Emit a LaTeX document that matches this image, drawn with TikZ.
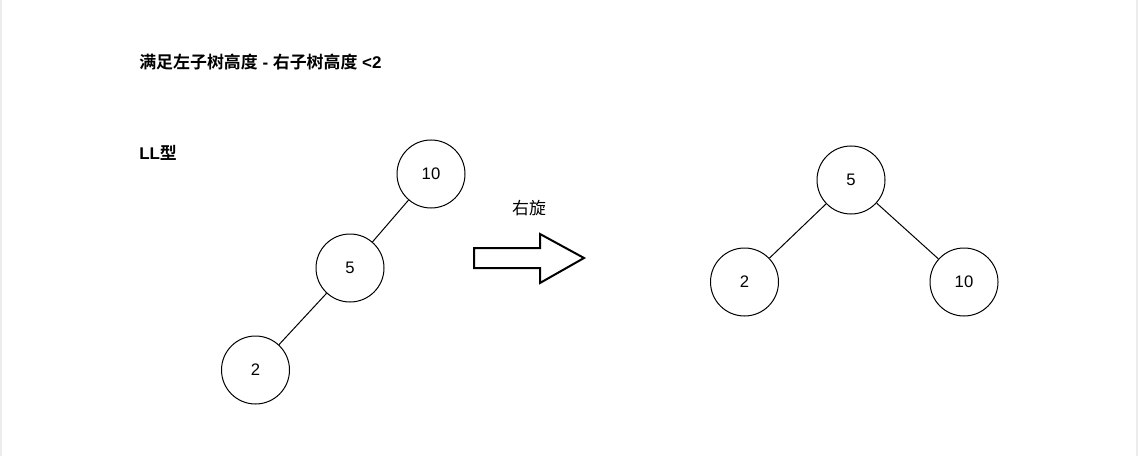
\documentclass[tikz,border=0pt]{standalone}
\usepackage{fontspec}
\setmainfont{Liberation Sans}
\newfontfamily\cjk{Noto Sans CJK SC}[BoldFont={Noto Sans CJK SC Bold}]
\begin{document}
\begin{tikzpicture}[x=0.75pt,y=-0.75pt,
  treenode/.style={circle,draw,line width=0.75pt,minimum size=51pt,inner sep=0pt,font=\fontsize{12.5}{14}\selectfont},
  edge/.style={line width=0.75pt},
  label/.style={font=\fontsize{12.7}{14}\selectfont,inner sep=0pt},
  bigarrow/.style={draw,line width=1.5pt,line join=miter,fill=white}]
\useasboundingbox (0,0) rectangle (1138,456);
\fill[white] (0,0) rectangle (1138,456);
\fill[gray!15] (0,0) rectangle (2,456);
\fill[gray!15] (1136,0) rectangle (1138,456);
% titles
\node[label,anchor=west,font=\fontsize{12.7}{14}\selectfont\bfseries] (title) at (139,62) {{\cjk 满足左子树高度} - {\cjk 右子树高度} <2};
\node[label,anchor=west,font=\fontsize{12.7}{14}\selectfont\bfseries] (ll) at (139,153) {LL{\cjk 型}};
\node[label] (rot) at (529,208) {\cjk 右旋};
% left tree
\node[treenode] (a10) at (431,174) {10};
\node[treenode] (a5) at (350,268) {5};
\node[treenode] (a2) at (255.5,370) {2};
\draw[edge] (a10) -- (a5);
\draw[edge] (a5) -- (a2);
% arrow
\draw[bigarrow] (474,248) -- (540,248) -- (540,234) -- (584,258) -- (540,283) -- (540,268) -- (474,268) -- cycle;
% right tree
\node[treenode] (b5) at (851,180) {5};
\node[treenode] (b2) at (744.5,282) {2};
\node[treenode] (b10) at (964,282) {10};
\draw[edge] (b5) -- (b2);
\draw[edge] (b5) -- (b10);
\end{tikzpicture}
\end{document}
